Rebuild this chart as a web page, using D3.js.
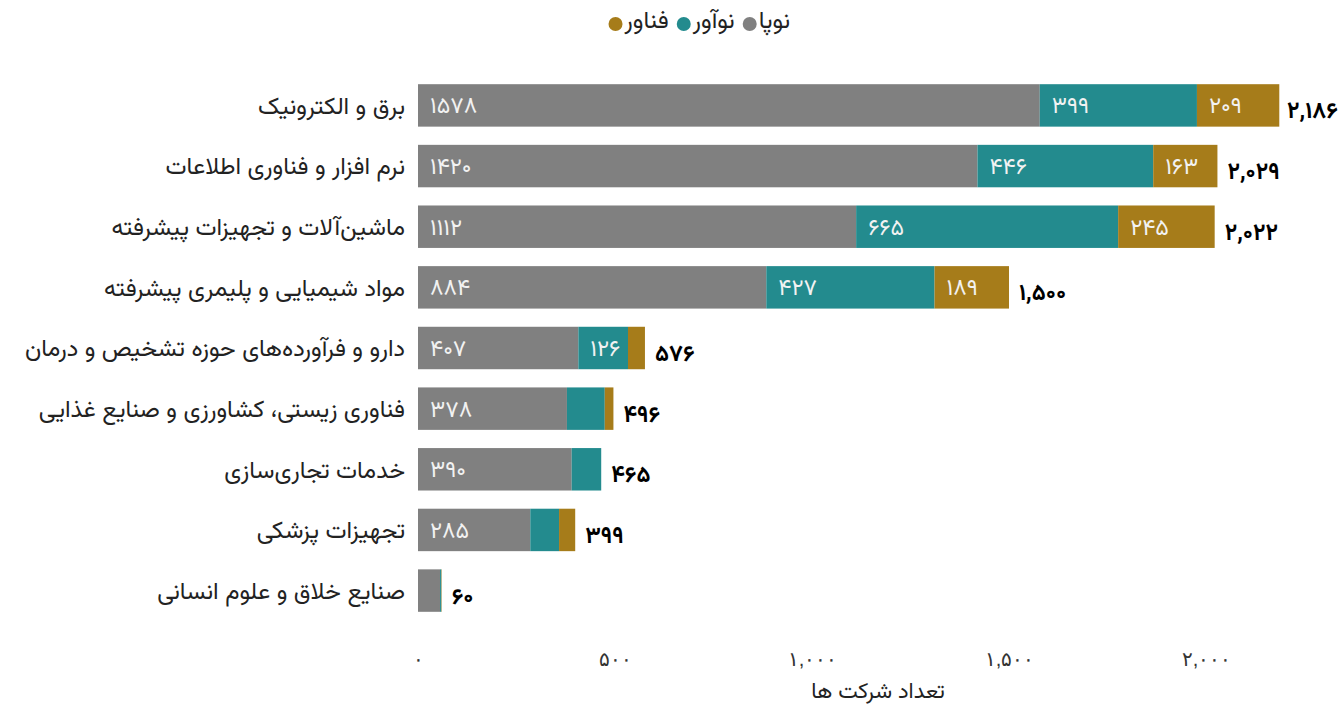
<!DOCTYPE html>
<html>
<head>
<meta charset="utf-8">
<script src="https://cdn.jsdelivr.net/npm/d3@7"></script>
<style>
  body { margin: 0; background: #fff; }
  svg { font-family: "Vazirmatn", "Noto Sans Arabic", "DejaVu Sans", sans-serif; }
</style>
</head>
<body>
<svg id="chart" width="1340" height="712"></svg>
<script>
// Data
const categories = [
    "برق و الکترونیک",
    "نرم افزار و فناوری اطلاعات",
    "ماشین‌آلات و تجهیزات پیشرفته",
    "مواد شیمیایی و پلیمری پیشرفته",
    "دارو و فرآورده‌های حوزه تشخیص و درمان",
    "فناوری زیستی، کشاورزی و صنایع غذایی",
    "خدمات تجاری‌سازی",
    "تجهیزات پزشکی",
    "صنایع خلاق و علوم انسانی"
];
const seriesNames = ["نوپا", "نوآور", "فناور"];
const nopa   = [1578, 1420, 1112, 884, 407, 378, 390, 285, 56];
const noavar = [399, 446, 665, 427, 126, 96, 75, 73, 3];
const fanavar = [209, 163, 245, 189, 43, 22, 0, 41, 1];
const totals = [2186, 2029, 2022, 1500, 576, 496, 465, 399, 60];
const xTicks = [0, 500, 1000, 1500, 2000];
const colors = ["#808080", "#238b8e", "#a67c1a"];

// Persian digits helper
const faDigits = "۰۱۲۳۴۵۶۷۸۹";
const toFa = s => String(s).replace(/[0-9]/g, d => faDigits[+d]);
const withComma = d3.format(",");

const svg = d3.select("#chart");
const margin = {left: 418, right: 2, top: 66, bottom: 82};
const width = 1340, height = 712;

const xScale = d3.scaleLinear()
    .domain([0, 2335])
    .range([margin.left, width - margin.right]);

const yScale = d3.scaleBand()
    .domain(categories)
    .range([margin.top, height - margin.bottom])
    .padding(0.3);

const rows = categories.map((c, i) => ({cat: c, vals: [nopa[i], noavar[i], fanavar[i]], total: totals[i]}));

// Bars
const rowG = svg.selectAll("g.row")
    .data(rows)
    .join("g")
    .attr("class", "row")
    .attr("transform", d => `translate(0, ${yScale(d.cat)})`);

rowG.each(function(d) {
    const g = d3.select(this);
    let acc = 0;
    d.vals.forEach((v, k) => {
        const x0 = xScale(acc), x1 = xScale(acc + v);
        acc += v;
        if (v <= 0) return;
        g.append("rect")
            .attr("x", x0)
            .attr("y", 0)
            .attr("width", x1 - x0)
            .attr("height", yScale.bandwidth())
            .attr("fill", colors[k]);
        if (x1 - x0 > 45) {
            g.append("text")
                .attr("x", x0 + 12)
                .attr("y", yScale.bandwidth() / 2)
                .attr("dy", "0.35em")
                .attr("fill", "#f2f2f2")
                .attr("font-size", 23)
                .attr("direction", "ltr")
                .text(toFa(v));
        }
    });
    // Total
    const t = g.append("text")
        .attr("y", yScale.bandwidth() / 2 + 5)
        .attr("dy", "0.35em")
        .attr("fill", "#000")
        .attr("font-size", 23)
        .attr("font-weight", "bold")
        .attr("direction", "ltr")
        .text(toFa(withComma(d.total)));
    const tw = t.node().getComputedTextLength();
    t.attr("x", Math.min(xScale(d.total) + 10, width - 2 - tw));
});

// Category labels
svg.append("g")
    .selectAll("text")
    .data(categories)
    .join("text")
    .attr("x", 405)
    .attr("y", d => yScale(d) + yScale.bandwidth() / 2)
    .attr("dy", "0.35em")
    .attr("text-anchor", "end")
    .attr("font-size", 24)
    .attr("fill", "#222")
    .text(d => d);

// X axis (labels only)
const xAxis = svg.append("g")
    .attr("transform", `translate(0, ${648})`)
    .call(d3.axisBottom(xScale).tickValues(xTicks).tickSize(0).tickPadding(4)
        .tickFormat(d => toFa(withComma(d))));
xAxis.select(".domain").remove();
xAxis.selectAll("text")
    .attr("font-size", 20)
    .attr("fill", "#333")
    .attr("font-family", null);

svg.append("text")
    .attr("x", (margin.left + width - margin.right) / 2)
    .attr("y", 690)
    .attr("dy", "0.35em")
    .attr("text-anchor", "middle")
    .attr("font-size", 22)
    .attr("fill", "#222")
    .text("تعداد شرکت ها");

// Legend, laid out right to left
const legend = svg.append("g");
let lx = 790;
seriesNames.forEach((name, k) => {
    const t = legend.append("text")
        .attr("x", lx)
        .attr("y", 20)
        .attr("dy", "0.35em")
        .attr("text-anchor", "end")
        .attr("font-size", 24)
        .attr("fill", "#222")
        .text(name);
    const w = t.node().getComputedTextLength();
    legend.append("circle")
        .attr("cx", lx - w - 9)
        .attr("cy", 24)
        .attr("r", 7)
        .attr("fill", colors[k]);
    lx = lx - w - 9 - 7 - 8;
});
</script>
</body>
</html>
